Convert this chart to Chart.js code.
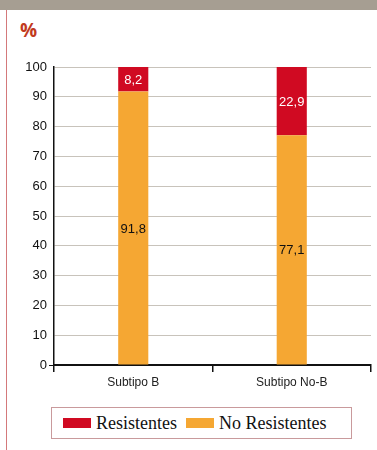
<!DOCTYPE html>
<html>
<head>
<meta charset="utf-8">
<script src="https://cdn.jsdelivr.net/npm/chart.js@4/dist/chart.umd.min.js"></script>
<style>
  body { margin: 0; background: #fff; }
  #page { position: relative; width: 377px; height: 450px; overflow: hidden; }
  #top { position: absolute; left: 0; top: 0; width: 377px; height: 10px; background: #a69e92; }
  #side { position: absolute; left: 6px; top: 10px; width: 1px; height: 440px; background: #d4797b; }
  #unit { position: absolute; left: 20px; top: 17px; font: bold 19px "Open Sans", sans-serif; color: #c13a1e; }
  #wrap { position: absolute; left: 0; top: 45px; width: 377px; height: 350px; }
  #legend { position: absolute; left: 51px; top: 407px; width: 288px; height: 30px;
            border: 1.5px solid #c99a9c; display: flex; align-items: center; padding-left: 11px;
            font: 18px "Liberation Serif", serif; color: #111; }
  .item { display: flex; align-items: center; margin-right: 9px; }
  .sw { width: 28px; height: 10px; margin-right: 5px; }
</style>
</head>
<body>
<div id="page">
  <div id="top"></div>
  <div id="side"></div>
  <div id="unit">%</div>
  <div id="wrap"><canvas id="chart"></canvas></div>
  <div id="legend"></div>
</div>
<script>
const categories = ['Subtipo B', 'Subtipo No-B']
const resistentes = [8.2, 22.9]
const noResistentes = [91.8, 77.1]
const seriesNames = ['Resistentes', 'No Resistentes']
const seriesColors = ['#d00a22', '#f5a733']
const labelColors = ['#ffffff', '#111111']

// writes the value in the middle of each segment, with a comma decimal
const valueLabels = {
  id: 'valueLabels',
  afterDatasetsDraw(chart) {
    const ctx = chart.ctx
    ctx.save()
    ctx.font = '13px "Liberation Sans Narrow", "Liberation Sans", sans-serif'
    ctx.textAlign = 'center'
    ctx.textBaseline = 'middle'
    chart.data.datasets.forEach((ds, i) => {
      chart.getDatasetMeta(i).data.forEach((bar, j) => {
        const p = bar.getCenterPoint()
        ctx.fillStyle = ds.textColor
        ctx.fillText(ds.data[j].toFixed(1).replace('.', ','), p.x, p.y + 1)
      })
    })
    ctx.restore()
  }
}

const tickFont = { family: '"Liberation Sans Narrow", "Liberation Sans", sans-serif', size: 12 }

// orange stack first so it sits at the bottom
const chart = new Chart(document.getElementById('chart'), {
  type: 'bar',
  data: {
    labels: categories,
    datasets: [
      { label: seriesNames[1], data: noResistentes, backgroundColor: seriesColors[1], textColor: labelColors[1] },
      { label: seriesNames[0], data: resistentes, backgroundColor: seriesColors[0], textColor: labelColors[0] }
    ]
  },
  options: {
    responsive: true,
    maintainAspectRatio: false,
    animation: false,
    layout: { padding: { top: 22, right: 6, left: 0, bottom: 0 } },
    plugins: { legend: { display: false }, tooltip: { enabled: false } },
    datasets: { bar: { barPercentage: 0.19, categoryPercentage: 1 } },
    scales: {
      x: {
        stacked: true,
        afterFit: s => { s.height = 30 },
        border: { color: '#111', width: 2 },
        grid: { offset: true, drawOnChartArea: false, color: '#111', lineWidth: 1.5, tickLength: 7 },
        ticks: { color: '#222', font: tickFont, padding: 3 }
      },
      y: {
        stacked: true,
        min: 0,
        max: 100,
        afterFit: s => { s.width = 54 },
        border: { color: '#111', width: 1.5 },
        grid: {
          color: '#c8c3bb',
          lineWidth: 1,
          tickLength: 5,
          tickColor: c => c.tick && c.tick.value === 0 ? '#111' : 'rgba(0,0,0,0)'
        },
        ticks: { stepSize: 10, color: '#111', font: { family: '"Liberation Sans Narrow", "Liberation Sans", sans-serif', size: 13 }, padding: 2 }
      }
    }
  },
  plugins: [valueLabels]
})

// legend built from the same series names and colours
const legend = document.getElementById('legend')
seriesNames.forEach((name, i) => {
  const item = document.createElement('div')
  item.className = 'item'
  item.innerHTML = '<span class="sw" style="background:' + seriesColors[i] + '"></span>' + name
  legend.appendChild(item)
})
</script>
</body>
</html>
